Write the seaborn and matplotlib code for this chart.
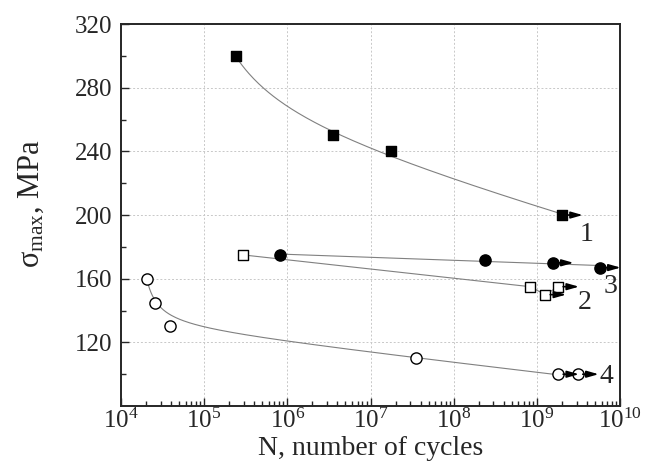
import numpy as np
import pandas as pd
import matplotlib
matplotlib.use("Agg")
import matplotlib.pyplot as plt
import seaborn as sns
from matplotlib.ticker import LogLocator, LogFormatterMathtext, FixedLocator, NullFormatter

# ---- data ----
s1_N = [2.4e5, 3.5e6, 1.76e7, 2.0e9]
s1_S = [300, 250, 240, 200]
s1_run = [False, False, False, True]

s2_N = [2.9e5, 8.3e8, 1.26e9, 1.8e9]
s2_S = [175, 155, 150, 155]
s2_run = [False, False, True, True]

s3_N = [8.1e5, 2.4e8, 1.55e9, 5.7e9]
s3_S = [175, 172, 170, 167]
s3_run = [False, False, True, True]

s4_N = [2.05e4, 2.6e4, 3.9e4, 3.5e7, 1.8e9, 3.1e9]
s4_S = [160, 145, 130, 110, 100, 100]
s4_run = [False, False, False, False, True, True]

# trend line of series 4
c4_N = [2.05e4, 2.6e4, 5.1e4, 1.02e5, 1.4e6, 3.5e7, 1.8e9]
c4_S = [160, 145, 136, 129.4, 119.4, 110, 100]

curve_labels = ["1", "2", "3", "4"]
y_ticks = [120, 160, 200, 240, 280, 320]

sns.set_style("ticks")
plt.rcParams["font.family"] = ["Liberation Serif", "DejaVu Serif"]
plt.rcParams["mathtext.fontset"] = "custom"
plt.rcParams["mathtext.rm"] = "Liberation Serif"
plt.rcParams["mathtext.it"] = "Liberation Serif:italic"
plt.rcParams["mathtext.bf"] = "Liberation Serif:bold"

fig = plt.figure(figsize=(6.5, 4.63), dpi=100)
ax = fig.add_axes([0.186, 0.123, 0.768, 0.825])

line_kw = dict(color="#808080", linewidth=0.8, zorder=2)


def hyper_fit(N, S, d, xgrid):
    x = np.log10(N)
    A = np.column_stack([np.ones_like(x), x, 1.0 / (x - d)])
    coef, *_ = np.linalg.lstsq(A, np.asarray(S, float), rcond=None)
    xg = np.log10(xgrid)
    return coef[0] + coef[1] * xg + coef[2] / (xg - d)


# curve 1
g1 = np.logspace(np.log10(s1_N[0]), np.log10(s1_N[-1]), 200)
sns.lineplot(x=g1, y=hyper_fit(s1_N, s1_S, 4.6, g1), ax=ax, **line_kw)
# curve 2
sns.lineplot(x=s2_N, y=s2_S, ax=ax, sort=False, **line_kw)
# curve 3
g3 = np.logspace(np.log10(s3_N[0]), np.log10(s3_N[-1]), 50)
p3 = np.polyfit(np.log10(s3_N), s3_S, 1)
sns.lineplot(x=g3, y=np.polyval(p3, np.log10(g3)), ax=ax, **line_kw)
# curve 4
g4 = np.logspace(np.log10(c4_N[0]), np.log10(c4_N[-1]), 300)
sns.lineplot(x=g4, y=hyper_fit(c4_N, c4_S, 4.17, g4), ax=ax, **line_kw)

sq = dict(s=55, linewidth=1.0, edgecolor="black", zorder=4, legend=False, marker="s")
ci = dict(s=65, linewidth=1.0, edgecolor="black", zorder=4, legend=False, marker="o")
sns.scatterplot(x=s1_N, y=s1_S, color="black", ax=ax, **sq)
sns.scatterplot(x=s2_N, y=s2_S, color="white", ax=ax, **sq)
sns.scatterplot(x=s3_N, y=s3_S, color="black", ax=ax, **ci)
sns.scatterplot(x=s4_N, y=s4_S, color="white", ax=ax, **ci)

# run-out arrows
for N, S, R in [(s1_N, s1_S, s1_run), (s2_N, s2_S, s2_run), (s3_N, s3_S, s3_run), (s4_N, s4_S, s4_run)]:
    for n, s, r in zip(N, S, R):
        if r:
            ax.annotate("", xy=(n * 10 ** 0.25, s), xytext=(n * 10 ** 0.06, s),
                        arrowprops=dict(arrowstyle="-|>,head_length=0.7,head_width=0.2",
                                        color="black", lw=1.2, shrinkA=0, shrinkB=0),
                        annotation_clip=False, zorder=5)

ax.text(3.3e9, 188, curve_labels[0], fontsize=20, ha="left", va="center")
ax.text(3.1e9, 145, curve_labels[1], fontsize=20, ha="left", va="center")
ax.text(6.3e9, 155, curve_labels[2], fontsize=20, ha="left", va="center")
ax.text(5.6e9, 98.5, curve_labels[3], fontsize=20, ha="left", va="center")

ax.set_xscale("log")
ax.set_xlim(1e4, 1e10)
ax.set_ylim(80, 320)
ax.xaxis.set_major_locator(LogLocator(base=10, numticks=10))
ax.xaxis.set_minor_locator(LogLocator(base=10, subs=np.arange(2, 10), numticks=20))
ax.xaxis.set_major_formatter(LogFormatterMathtext())
ax.xaxis.set_minor_formatter(NullFormatter())
ax.yaxis.set_major_locator(FixedLocator(y_ticks))
ax.yaxis.set_minor_locator(FixedLocator([100, 140, 180, 220, 260, 300]))

ax.grid(True, which="major", linestyle=(0, (2, 2)), color="#c8c8c8", linewidth=0.7)
ax.set_axisbelow(True)

ax.tick_params(which="both", direction="in", top=False, right=False, labelsize=18)
ax.tick_params(axis="x", which="both", pad=2)
ax.tick_params(axis="y", which="both", pad=6)
ax.tick_params(which="major", length=6, width=1.0)
ax.tick_params(which="minor", length=3.5, width=1.0)
for sp in ax.spines.values():
    sp.set_linewidth(1.4)
    sp.set_visible(True)

ax.set_xlabel("N, number of cycles", fontsize=20, labelpad=2)
ax.set_ylabel("σ$_{\\mathrm{max}}$, MPa", fontsize=22)
ax.yaxis.set_label_coords(-0.15, 0.53)

fig.savefig("out.png", dpi=100)
